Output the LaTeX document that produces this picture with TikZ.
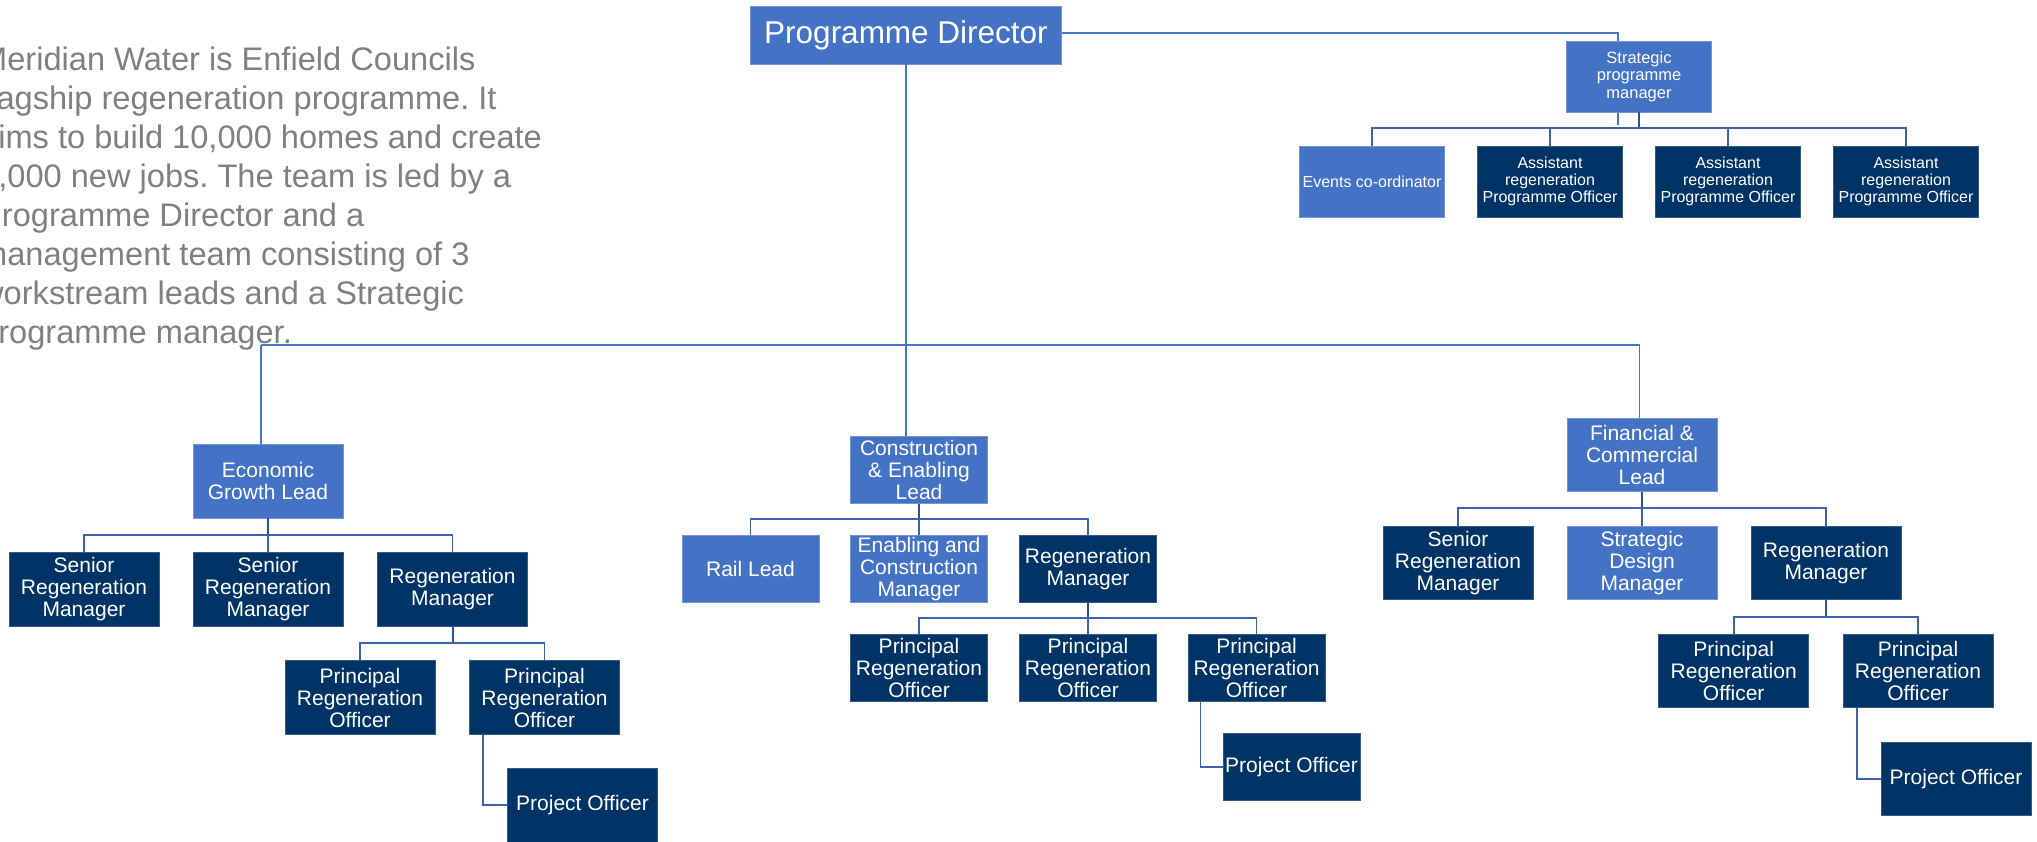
\documentclass[tikz,border=0pt]{standalone}
\usepackage{fontspec}
\setmainfont{Liberation Sans}
\frenchspacing
\definecolor{leadblue}{RGB}{68,114,196}
\definecolor{navy}{RGB}{0,51,102}
\definecolor{linkblue}{RGB}{72,118,200}
\definecolor{treeblue}{RGB}{62,98,172}
\definecolor{stemblue}{RGB}{47,80,146}
\definecolor{prosegray}{RGB}{128,128,128}

\tikzset{
  orgbox/.style={rectangle, inner sep=0pt, align=center, text=white, line width=0.6pt},
  lightbox/.style={orgbox, fill=leadblue, draw=leadblue!75!white},
  darkbox/.style={orgbox, fill=navy, draw=navy!80!white},
  sizeA/.style={minimum width=150pt, minimum height=74pt},
  sizeB/.style={minimum width=137pt, minimum height=67pt},
  sizeC/.style={minimum width=150pt, minimum height=73pt},
  sizeD/.style={minimum width=145pt, minimum height=71pt},
  bigtxt/.style={font=\fontsize{21}{22}\selectfont},
  smalltxt/.style={font=\fontsize{16}{17}\selectfont},
  tinytxt/.style={font=\fontsize{16.5}{17.5}\selectfont},
  link/.style={draw=linkblue, line width=1.3pt},
  stem/.style={draw=stemblue, line width=2pt},
  branch/.style={draw=treeblue, line width=1.6pt},
  prose/.style={anchor=base west, inner sep=0pt, text=prosegray, font=\fontsize{32.6}{39}\selectfont},
}

\begin{document}
\begin{tikzpicture}[x=1pt, y=-1pt]
\useasboundingbox (0,0) rectangle (2037,841);
\fill[white] (0,0) rectangle (2037,841);

% introductory paragraph (runs off the left margin)
\begin{scope}
\clip (0,0) rectangle (2037,841);
\node[prose] (d1) at (-20,70)  {Meridian Water is Enfield Councils};
\node[prose] (d2) at (-20,109) {flagship regeneration programme. It};
\node[prose] (d3) at (-20,148) {aims to build 10,000 homes and create};
\node[prose] (d4) at (-20,187) {6,000 new jobs. The team is led by a};
\node[prose] (d5) at (-20,226) {Programme Director and a};
\node[prose] (d6) at (-20,265) {management team consisting of 3};
\node[prose] (d7) at (-20,304) {workstream leads and a Strategic};
\node[prose] (d8) at (-20,343) {programme manager.};
\end{scope}

% top of the chart
\node[lightbox, minimum width=311pt, minimum height=58pt, font=\fontsize{31.5}{34}\selectfont] (pd) at (906,35) {Programme Director};

\coordinate (spmtail) at (1618,125);
\draw[link] (pd.east |- 0,33) -| (spmtail);

\node[lightbox, sizeD, tinytxt] (spm) at (1639,76.5) {Strategic\\programme\\manager};

% strategic programme team
\node[lightbox, sizeD, smalltxt] (ev) at (1372,181.5) {Events co-ordinator};
\node[darkbox, sizeD, smalltxt] (a1) at (1550,181.5) {Assistant\\regeneration\\Programme Officer};
\node[darkbox, sizeD, smalltxt] (a2) at (1728,181.5) {Assistant\\regeneration\\Programme Officer};
\node[darkbox, sizeD, smalltxt] (a3) at (1906,181.5) {Assistant\\regeneration\\Programme Officer};

\draw[stem] (spm.south) -- (spm.south |- 0,128);
\draw[branch] (ev.north) -- (ev.north |- 0,128) -- (a3.north |- 0,128) -- (a3.north);
\draw[branch] (a1.north) -- (a1.north |- 0,128);
\draw[branch] (a2.north) -- (a2.north |- 0,128);

% workstream leads
\node[lightbox, sizeA, bigtxt] (egl) at (268,481) {Economic\\Growth Lead};
\node[lightbox, sizeB, bigtxt] (cel) at (919,470) {Construction\\\& Enabling\\Lead};
\node[lightbox, sizeC, bigtxt] (fcl) at (1642,455) {Financial \&\\Commercial\\Lead};

\coordinate (busL) at (261,345);
\coordinate (busR) at (1639.5,345);
\draw[link] (pd.south) -- (pd.south |- cel.north);
\draw[link] (busL) -- (busR);
\draw[link] (busL) -- (busL |- egl.north);
\draw[link] (busR) -- (busR |- fcl.north);

% economic growth workstream
\node[darkbox, sizeA, bigtxt] (srm1) at (84,589.5) {Senior\\Regeneration\\Manager};
\node[darkbox, sizeA, bigtxt] (srm2) at (268,589.5) {Senior\\Regeneration\\Manager};
\node[darkbox, sizeA, bigtxt] (rma) at (452.5,589.5) {Regeneration\\Manager};
\draw[stem] (egl.south) -- (egl.south |- 0,535);
\draw[branch] (srm1.north) -- (srm1.north |- 0,535) -- (rma.north |- 0,535) -- (rma.north);
\draw[branch] (srm2.north) -- (srm2.north |- 0,535);

\node[darkbox, sizeA, bigtxt] (pro1) at (360,697.5) {Principal\\Regeneration\\Officer};
\node[darkbox, sizeA, bigtxt] (pro2) at (544.5,697.5) {Principal\\Regeneration\\Officer};
\draw[stem] (rma.south) -- (rma.south |- 0,643);
\draw[branch] (pro1.north) -- (pro1.north |- 0,643) -- (pro2.north |- 0,643) -- (pro2.north);

\node[darkbox, sizeA, bigtxt] (po1) at (582.5,805) {Project Officer};
\draw[branch] (pro2.south west) ++(14,0) |- (po1.west);

% construction and enabling workstream
\node[lightbox, sizeB, bigtxt] (rail) at (750.5,569) {Rail Lead};
\node[lightbox, sizeB, bigtxt] (ecm) at (919,569) {Enabling and\\Construction\\Manager};
\node[darkbox, sizeB, bigtxt] (rmb) at (1088,569) {Regeneration\\Manager};
\draw[stem] (cel.south) -- (cel.south |- 0,519);
\draw[branch] (rail.north) -- (rail.north |- 0,519) -- (rmb.north |- 0,519) -- (rmb.north);
\draw[branch] (ecm.north) -- (ecm.north |- 0,519);

\node[darkbox, sizeB, bigtxt] (proa) at (919,668) {Principal\\Regeneration\\Officer};
\node[darkbox, sizeB, bigtxt] (prob) at (1088,668) {Principal\\Regeneration\\Officer};
\node[darkbox, sizeB, bigtxt] (proc) at (1256.6,668) {Principal\\Regeneration\\Officer};
\draw[stem] (rmb.south) -- (rmb.south |- 0,618);
\draw[branch] (proa.north) -- (proa.north |- 0,618) -- (proc.north |- 0,618) -- (proc.north);
\draw[branch] (prob.north) -- (prob.north |- 0,618);

\node[darkbox, sizeB, bigtxt] (po2) at (1291.5,767) {Project Officer};
\draw[branch] (proc.south west) ++(12.5,0) |- (po2.west);

% financial and commercial workstream
\node[darkbox, sizeC, bigtxt] (srm3) at (1458,563) {Senior\\Regeneration\\Manager};
\node[lightbox, sizeC, bigtxt] (sdm) at (1642,563) {Strategic\\Design\\Manager};
\node[darkbox, sizeC, bigtxt] (rmc) at (1826,563) {Regeneration\\Manager};
\draw[stem] (fcl.south) -- (fcl.south |- 0,508);
\draw[branch] (srm3.north) -- (srm3.north |- 0,508) -- (rmc.north |- 0,508) -- (rmc.north);
\draw[branch] (sdm.north) -- (sdm.north |- 0,508);

\node[darkbox, sizeC, bigtxt] (prod) at (1733.7,671) {Principal\\Regeneration\\Officer};
\node[darkbox, sizeC, bigtxt] (proe) at (1918,671) {Principal\\Regeneration\\Officer};
\draw[stem] (rmc.south) -- (rmc.south |- 0,617);
\draw[branch] (prod.north) -- (prod.north |- 0,617) -- (proe.north |- 0,617) -- (proe.north);

\node[darkbox, sizeC, bigtxt] (po3) at (1956,779) {Project Officer};
\draw[branch] (proe.south west) ++(14,0) |- (po3.west);
\end{tikzpicture}
\end{document}
